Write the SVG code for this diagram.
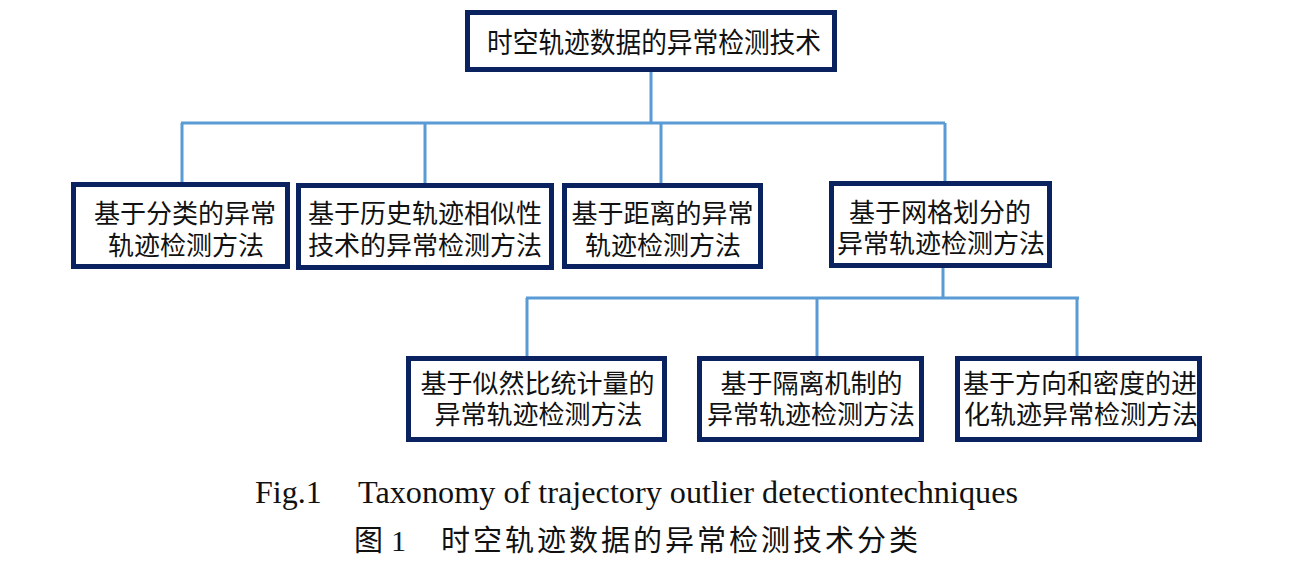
<svg xmlns="http://www.w3.org/2000/svg" width="1299" height="567" viewBox="0 0 1299 567">
<style>
.box{fill:#ffffff;stroke:#0a2360;stroke-width:5}
.lbl{font-family:"Noto Sans CJK SC","Liberation Serif",sans-serif;font-size:26px;fill:#111;text-anchor:middle}
.ttl{font-family:"Noto Sans CJK SC",sans-serif;font-size:28px;fill:#111}
.con{stroke:#5b9bd5;stroke-width:3;fill:none}
.cap{font-family:"Liberation Serif",serif;font-size:32px;fill:#111}
.capc{font-family:"Noto Sans CJK SC",sans-serif;font-size:29px;fill:#111;letter-spacing:3px}
</style>
<rect width="1299" height="567" fill="#ffffff"/>
<g id="connectors">
<path class="con" d="M651 72V123M181 123H945M182 123V182M425 123V183M661 123V183M945 123V181"/>
<path class="con" d="M943 268V298M526 298H1079M527 298V356M817 298V356M1077 298V356"/>
</g>
<g id="root">
<rect class="box" x="467.5" y="12.5" width="367" height="57"/>
<text class="ttl" x="487" y="53" textLength="334" lengthAdjust="spacingAndGlyphs">时空轨迹数据的异常检测技术</text>
</g>
<g id="n1">
<rect class="box" x="73.5" y="184.5" width="214" height="82"/>
<text class="lbl"><tspan x="185" y="223">基于分类的异常</tspan><tspan x="186" y="255">轨迹检测方法</tspan></text>
</g>
<g id="n2">
<rect class="box" x="298.5" y="185.5" width="253" height="82"/>
<text class="lbl"><tspan x="425" y="223">基于历史轨迹相似性</tspan><tspan x="425" y="255">技术的异常检测方法</tspan></text>
</g>
<g id="n3">
<rect class="box" x="564.5" y="185.5" width="196" height="81"/>
<text class="lbl"><tspan x="662.5" y="223">基于距离的异常</tspan><tspan x="663" y="255">轨迹检测方法</tspan></text>
</g>
<g id="n4">
<rect class="box" x="831.5" y="183.5" width="218" height="82"/>
<text class="lbl"><tspan x="940" y="222">基于网格划分的</tspan><tspan x="941" y="253">异常轨迹检测方法</tspan></text>
</g>
<g id="n5">
<rect class="box" x="408.5" y="358.5" width="256" height="81"/>
<text class="lbl"><tspan x="537.5" y="393">基于似然比统计量的</tspan><tspan x="538.5" y="424">异常轨迹检测方法</tspan></text>
</g>
<g id="n6">
<rect class="box" x="699.5" y="358.5" width="222" height="81"/>
<text class="lbl"><tspan x="811.5" y="393">基于隔离机制的</tspan><tspan x="811" y="424">异常轨迹检测方法</tspan></text>
</g>
<g id="n7">
<rect class="box" x="957.5" y="358.5" width="242" height="81"/>
<text class="lbl"><tspan x="1080" y="393">基于方向和密度的进</tspan><tspan x="1081" y="424">化轨迹异常检测方法</tspan></text>
</g>
<g id="caption">
<text class="cap" x="255" y="503">Fig.1</text>
<text class="cap" x="358" y="503" textLength="660" lengthAdjust="spacingAndGlyphs">Taxonomy of trajectory outlier detectiontechniques</text>
<text class="capc" x="354" y="551">图</text>
<text class="cap" x="391" y="551" style="font-size:30px">1</text>
<text class="capc" x="441" y="551">时空轨迹数据的异常检测技术分类</text>
</g>
</svg>
